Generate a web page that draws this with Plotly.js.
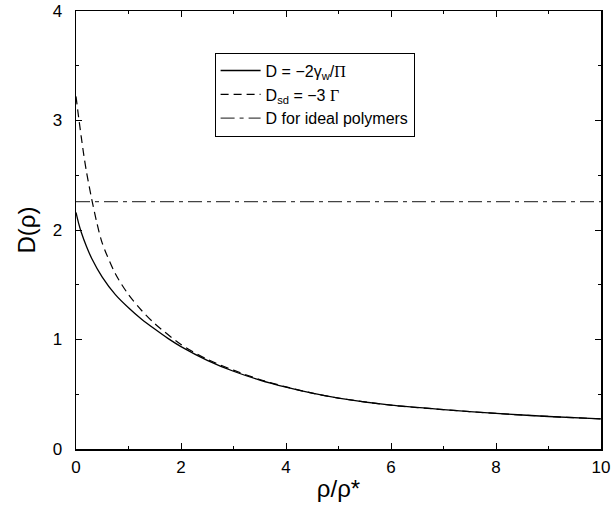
<!DOCTYPE html>
<html>
<head>
<meta charset="utf-8">
<script src="https://cdn.plot.ly/plotly-3.0.1.min.js"></script>
<style>html,body{margin:0;padding:0;background:#fff;}#chart{width:611px;height:506px;}</style>
</head>
<body>
<div id="chart"></div>
<script>
// Solid curve: D = -2 gamma_w / Pi
const xSolid = [0, 0.05, 0.1, 0.2, 0.3, 0.5, 0.75, 1, 1.25, 1.5, 1.75, 2, 2.5, 3, 3.5, 4, 4.5, 5, 6, 7, 8, 9, 10];
const ySolid = [2.16, 2.06, 1.98, 1.85, 1.74, 1.57, 1.41, 1.29, 1.185, 1.095, 1.01, 0.935, 0.81, 0.71, 0.63, 0.565, 0.51, 0.465, 0.40, 0.36, 0.325, 0.297, 0.275];
// Dashed curve: D_sd = -3 Gamma
const xDashed = [0, 0.05, 0.1, 0.15, 0.2, 0.3, 0.4, 0.5, 0.75, 1, 1.25, 1.5, 2, 2.5, 3, 3.5, 4, 4.5, 5, 6, 7, 8, 9, 10];
const yDashed = [3.22, 3.03, 2.85, 2.68, 2.53, 2.28, 2.06, 1.88, 1.60, 1.41, 1.265, 1.145, 0.955, 0.82, 0.72, 0.635, 0.567, 0.51, 0.465, 0.40, 0.36, 0.325, 0.297, 0.275];
// Ideal polymers: constant
const xIdeal = [0, 10];
const yIdeal = [2.26, 2.26];

const names = [
  'D = −2γ<sub>w</sub>/<span style="font-family:\'Liberation Serif\',serif">Π</span>',
  'D<sub>sd</sub> = −3 <span style="font-family:\'Liberation Serif\',serif">Γ</span>',
  'D for ideal polymers'
];

const traces = [
  {x: xSolid, y: ySolid, mode: 'lines', name: names[0], line: {color: '#000', width: 1.3, shape: 'spline', smoothing: 0.8}},
  {x: xDashed, y: yDashed, mode: 'lines', name: names[1], line: {color: '#000', width: 1.2, dash: '8px,5px', shape: 'spline', smoothing: 0.8}},
  {x: xIdeal, y: yIdeal, mode: 'lines', name: names[2], line: {color: '#444', width: 1.2, dash: '14px,5px,4px,5px'}}
];

const FONT = 'Liberation Sans, Arial, sans-serif';
const axisCommon = {
  showgrid: false, zeroline: false, showline: true, linecolor: '#000', linewidth: 1.5,
  mirror: 'allticks', ticks: 'inside', ticklen: 6, tickwidth: 1, tickcolor: '#000',
  tickfont: {family: FONT, size: 17, color: '#000'}
};

const layout = {
  width: 611, height: 506,
  margin: {l: 76, r: 10, t: 11, b: 57},
  paper_bgcolor: '#fff', plot_bgcolor: '#fff',
  showlegend: true,
  legend: {
    x: 0.264, y: 0.905, xanchor: 'left', yanchor: 'top',
    bordercolor: '#000', borderwidth: 1, bgcolor: '#fff',
    font: {family: FONT, size: 16, color: '#000'},
    tracegroupgap: 0, itemwidth: 40
  },
  xaxis: Object.assign({}, axisCommon, {
    range: [0, 10], tickmode: 'linear', tick0: 0, dtick: 2,
    minor: {ticks: 'inside', dtick: 1, ticklen: 3, tickcolor: '#000'},
    ticklabelstandoff: 2,
    title: {text: 'ρ/ρ*', font: {family: FONT, size: 24, color: '#000'}, standoff: 4}
  }),
  yaxis: Object.assign({}, axisCommon, {
    range: [0, 4], tickmode: 'linear', tick0: 0, dtick: 1,
    minor: {ticks: 'inside', dtick: 0.5, ticklen: 3, tickcolor: '#000'},
    ticklabelstandoff: 9,
    title: {text: 'D(ρ)', font: {family: FONT, size: 24, color: '#000'}, standoff: 10}
  })
};

Plotly.newPlot('chart', traces, layout, {displayModeBar: false, staticPlot: true});
</script>
</body>
</html>
